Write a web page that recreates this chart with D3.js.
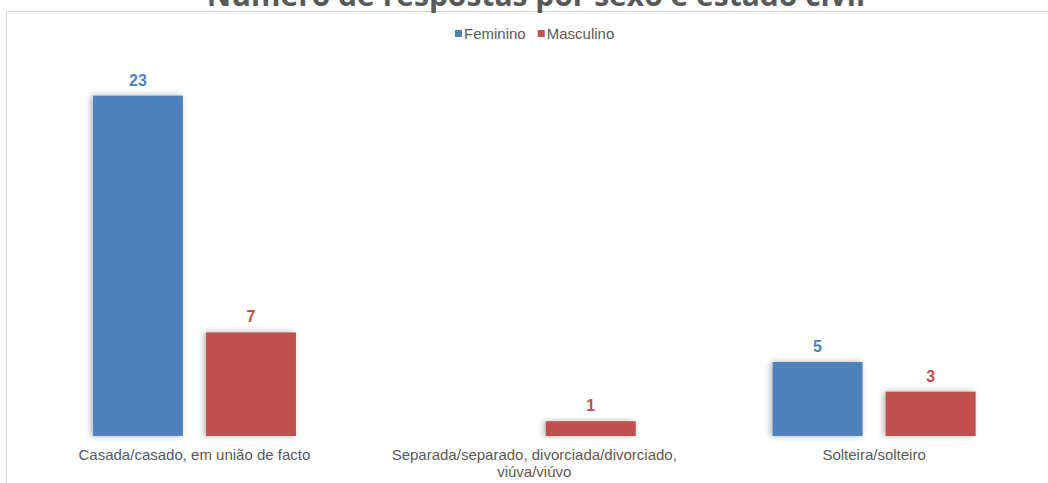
<!DOCTYPE html>
<html>
<head>
<meta charset="utf-8">
<script src="https://cdn.jsdelivr.net/npm/d3@7"></script>
<style>
  body { margin: 0; background: #fff; }
  #chart { width: 1048px; height: 483px; }
</style>
</head>
<body>
<div id="chart"></div>
<script>
// Dados do gráfico
const categories = [
  ['Casada/casado, em união de facto'],
  ['Separada/separado, divorciada/divorciado,', 'viúva/viúvo'],
  ['Solteira/solteiro']
];
const seriesNames = ['Feminino', 'Masculino'];
const feminino = [23, 0, 5];
const masculino = [7, 1, 3];
const seriesColors = ['#4F81BD', '#C0504D'];

const W = 1048, H = 483;
const svg = d3.select('#chart').append('svg')
  .attr('width', W).attr('height', H);

// Sombra das barras
const defs = svg.append('defs');
const filter = defs.append('filter').attr('id', 'shadow')
  .attr('x', '-20%').attr('y', '-20%').attr('width', '140%').attr('height', '140%');
filter.append('feDropShadow')
  .attr('dx', -2).attr('dy', 0).attr('stdDeviation', 3)
  .attr('flood-color', '#000').attr('flood-opacity', 0.3);

// Moldura
svg.append('path')
  .attr('d', `M6.5,${H} V11.5 H${W}`)
  .attr('fill', 'none').attr('stroke', '#d9d9d9').attr('stroke-width', 1);

// Título (cortado no topo, como no original)
svg.append('text')
  .attr('x', 536).attr('y', 6)
  .attr('text-anchor', 'middle')
  .style('font-family', 'Open Sans, sans-serif')
  .style('font-weight', 'bold')
  .style('font-size', '30px')
  .attr('fill', '#595959')
  .text('Número de respostas por sexo e estado civil');

// Escalas
const x0 = d3.scaleBand()
  .domain(d3.range(categories.length))
  .range([24.5, 1044])
  .paddingInner(0).paddingOuter(0);

const x1 = d3.scaleBand()
  .domain(seriesNames)
  .range([0, x0.bandwidth()])
  .paddingInner(0.2035).paddingOuter(0.605);

const y = d3.scaleLinear().domain([0, 25]).range([436, 66]);

const rows = categories.map((c, i) => ({
  i,
  values: [
    { name: 'Feminino', v: feminino[i] },
    { name: 'Masculino', v: masculino[i] }
  ]
}));

const groups = svg.selectAll('.grp').data(rows).enter().append('g')
  .attr('transform', d => `translate(${x0(d.i)},0)`);

groups.selectAll('rect')
  .data(d => d.values.filter(e => e.v > 0))
  .enter().append('rect')
  .attr('x', d => x1(d.name))
  .attr('y', d => y(d.v))
  .attr('width', x1.bandwidth())
  .attr('height', d => y(0) - y(d.v))
  .attr('fill', d => seriesColors[seriesNames.indexOf(d.name)])
  .attr('filter', 'url(#shadow)');

groups.selectAll('.lbl')
  .data(d => d.values.filter(e => e.v > 0))
  .enter().append('text')
  .attr('x', d => x1(d.name) + x1.bandwidth() / 2)
  .attr('y', d => y(d.v) - 10)
  .attr('text-anchor', 'middle')
  .style('font-family', 'Liberation Sans, Arial, sans-serif')
  .style('font-weight', 'bold')
  .style('font-size', '16px')
  .attr('fill', d => seriesColors[seriesNames.indexOf(d.name)])
  .text(d => d.v);

// Rótulos das categorias
const catText = svg.selectAll('.cat').data(categories).enter().append('text')
  .attr('text-anchor', 'middle')
  .style('font-family', 'Liberation Sans, Arial, sans-serif')
  .style('font-size', '15px')
  .attr('fill', '#595959')
  .attr('transform', (d, i) => `translate(${x0(i) + x0.bandwidth() / 2},460)`);

catText.selectAll('tspan').data(d => d).enter().append('tspan')
  .attr('x', 0)
  .attr('dy', (d, i) => i === 0 ? 0 : 17)
  .text(d => d);

// Legenda
const legend = svg.append('g').attr('transform', 'translate(455,34)');
let lx = 0;
seriesNames.forEach((name, i) => {
  legend.append('rect')
    .attr('x', lx).attr('y', -4)
    .attr('width', 7).attr('height', 7)
    .attr('fill', seriesColors[i]);
  const t = legend.append('text')
    .attr('x', lx + 9).attr('y', 5)
    .style('font-family', 'Liberation Sans, Arial, sans-serif')
    .style('font-size', '15px')
    .attr('fill', '#595959')
    .text(name);
  lx += 9 + t.node().getComputedTextLength() + 12;
});
</script>
</body>
</html>
